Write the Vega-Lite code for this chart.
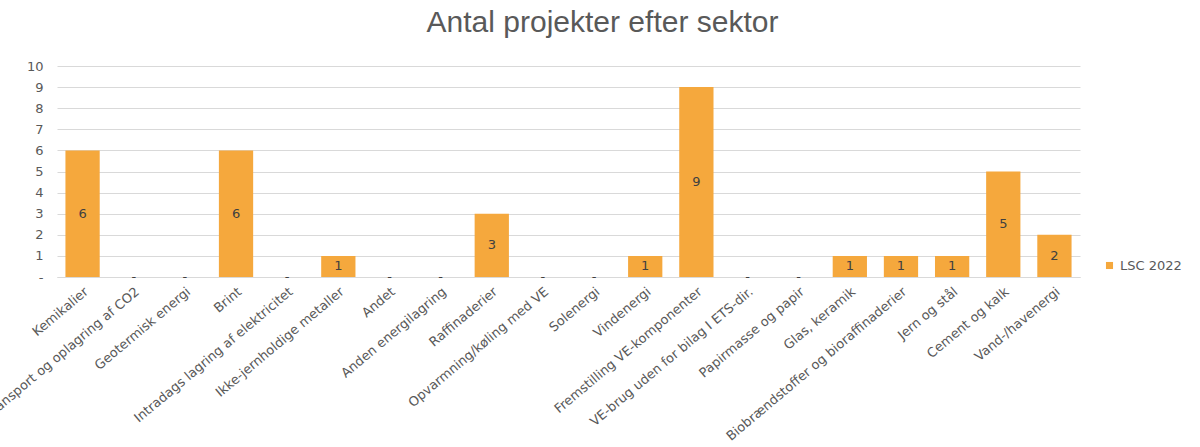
{
  "$schema": "https://vega.github.io/schema/vega-lite/v6.json",
  "autosize": "none",
  "width": 1023,
  "height": 211,
  "padding": {"left": 57, "top": 66, "right": 120, "bottom": 170},
  "background": "white",
  "config": {"view": {"stroke": null}},
  "title": {
    "text": "Antal projekter efter sektor",
    "anchor": "middle",
    "dx": 34,
    "offset": 22,
    "fontSize": 30,
    "font": "Liberation Sans",
    "fontWeight": "normal",
    "color": "#595959"
  },
  "data": {
    "values": [
      {"sektor": "Kemikalier", "antal": 6, "serie": "LSC 2022"},
      {"sektor": "Transport og oplagring af CO2", "antal": 0, "serie": "LSC 2022"},
      {"sektor": "Geotermisk energi", "antal": 0, "serie": "LSC 2022"},
      {"sektor": "Brint", "antal": 6, "serie": "LSC 2022"},
      {"sektor": "Intradags lagring af elektricitet", "antal": 0, "serie": "LSC 2022"},
      {"sektor": "Ikke-jernholdige metaller", "antal": 1, "serie": "LSC 2022"},
      {"sektor": "Andet", "antal": 0, "serie": "LSC 2022"},
      {"sektor": "Anden energilagring", "antal": 0, "serie": "LSC 2022"},
      {"sektor": "Raffinaderier", "antal": 3, "serie": "LSC 2022"},
      {"sektor": "Opvarmning/køling med VE", "antal": 0, "serie": "LSC 2022"},
      {"sektor": "Solenergi", "antal": 0, "serie": "LSC 2022"},
      {"sektor": "Vindenergi", "antal": 1, "serie": "LSC 2022"},
      {"sektor": "Fremstilling VE-komponenter", "antal": 9, "serie": "LSC 2022"},
      {"sektor": "VE-brug uden for bilag I ETS-dir.", "antal": 0, "serie": "LSC 2022"},
      {"sektor": "Papirmasse og papir", "antal": 0, "serie": "LSC 2022"},
      {"sektor": "Glas, keramik", "antal": 1, "serie": "LSC 2022"},
      {"sektor": "Biobrændstoffer og bioraffinaderier", "antal": 1, "serie": "LSC 2022"},
      {"sektor": "Jern og stål", "antal": 1, "serie": "LSC 2022"},
      {"sektor": "Cement og kalk", "antal": 5, "serie": "LSC 2022"},
      {"sektor": "Vand-/havenergi", "antal": 2, "serie": "LSC 2022"}
    ]
  },
  "encoding": {
    "x": {
      "field": "sektor",
      "type": "nominal",
      "sort": null,
      "title": null,
      "scale": {"paddingInner": 0.33, "paddingOuter": 0.165},
      "axis": {
        "labelAngle": -40,
        "labelFontSize": 13,
        "labelFont": "DejaVu Sans",
        "labelColor": "#595959",
        "labelPadding": 8,
        "labelLimit": 400,
        "ticks": false,
        "domain": true,
        "domainColor": "#d9d9d9",
        "grid": false
      }
    }
  },
  "layer": [
    {
      "mark": {"type": "bar", "color": "#F5A83D"},
      "encoding": {
        "y": {
          "field": "antal",
          "type": "quantitative",
          "title": null,
          "scale": {"domain": [0, 10]},
          "axis": {
            "values": [0, 1, 2, 3, 4, 5, 6, 7, 8, 9, 10],
            "labelOverlap": false,
            "labelExpr": "datum.value == 0 ? '-' : datum.label",
            "labelFontSize": 13,
            "labelFont": "DejaVu Sans",
            "labelColor": "#595959",
            "labelPadding": 14,
            "ticks": false,
            "domain": false,
            "gridColor": "#d9d9d9",
            "gridWidth": 1
          }
        },
        "color": {
          "field": "serie",
          "type": "nominal",
          "scale": {"range": ["#F5A83D"]},
          "legend": {
            "title": null,
            "orient": "none",
            "legendX": 1046,
            "legendY": 193,
            "symbolType": "square",
            "symbolSize": 50,
            "labelFontSize": 13,
            "labelFont": "DejaVu Sans",
            "labelColor": "#595959"
          }
        }
      }
    },
    {
      "mark": {"type": "text", "fontSize": 13, "font": "DejaVu Sans", "color": "#404040", "baseline": "middle"},
      "encoding": {
        "y": {
          "field": "antal",
          "type": "quantitative",
          "title": null,
          "axis": {
            "values": [0, 1, 2, 3, 4, 5, 6, 7, 8, 9, 10],
            "labelOverlap": false,
            "labelExpr": "datum.value == 0 ? '-' : datum.label",
            "labelFontSize": 13,
            "labelFont": "DejaVu Sans",
            "labelColor": "#595959",
            "labelPadding": 14,
            "ticks": false,
            "domain": false,
            "gridColor": "#d9d9d9",
            "gridWidth": 1
          }
        },
        "text": {"value": "-"}
      },
      "transform": [{"filter": "datum.antal == 0"}]
    },
    {
      "transform": [
        {"filter": "datum.antal > 0"},
        {"calculate": "datum.antal / 2", "as": "mid"}
      ],
      "mark": {"type": "text", "fontSize": 13, "font": "DejaVu Sans", "color": "#404040", "baseline": "middle"},
      "encoding": {
        "y": {
          "field": "mid",
          "type": "quantitative",
          "title": null,
          "axis": {
            "values": [0, 1, 2, 3, 4, 5, 6, 7, 8, 9, 10],
            "labelOverlap": false,
            "labelExpr": "datum.value == 0 ? '-' : datum.label",
            "labelFontSize": 13,
            "labelFont": "DejaVu Sans",
            "labelColor": "#595959",
            "labelPadding": 14,
            "ticks": false,
            "domain": false,
            "gridColor": "#d9d9d9",
            "gridWidth": 1
          }
        },
        "text": {"field": "antal", "type": "quantitative"}
      }
    }
  ]
}
